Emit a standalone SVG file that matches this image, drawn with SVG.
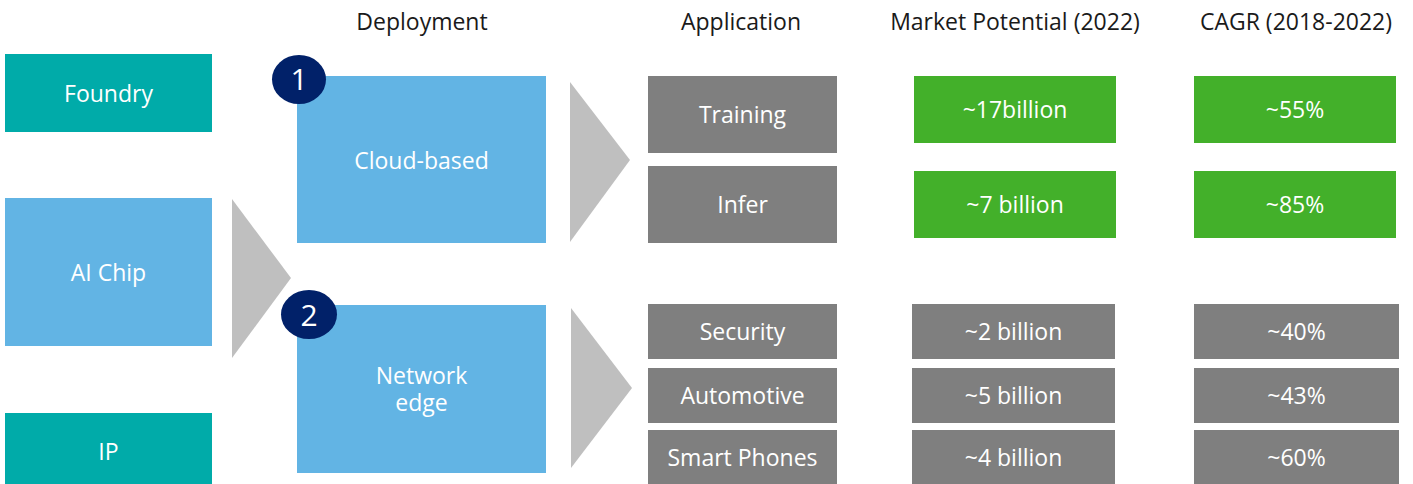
<svg xmlns="http://www.w3.org/2000/svg" width="1413" height="484" viewBox="0 0 1413 484">
<style>
text{font-family:"Open Sans","Noto Sans","Liberation Sans",sans-serif;font-size:23px;text-anchor:middle}
.hdr{fill:#1a1a1a}
.lbl{fill:#ffffff}
.num{fill:#ffffff;font-size:30px}
.teal{fill:#00ABA9}
.blue{fill:#62B4E4}
.gray{fill:#7F7F7F}
.green{fill:#43B02A}
.navy{fill:#012169}
.arrow{fill:#BFBFBF}
</style>
<rect width="1413" height="484" fill="#ffffff"/>
<g id="headers">
<text class="hdr" x="422" y="30">Deployment</text>
<text class="hdr" x="741" y="30">Application</text>
<text class="hdr" x="1015" y="30">Market Potential (2022)</text>
<text class="hdr" x="1296" y="30">CAGR (2018-2022)</text>
</g>
<g id="connectors">
<polygon class="arrow" points="232,199 232,358 291,278"/>
<polygon class="arrow" points="570,82 570,242 630,160"/>
<polygon class="arrow" points="571,308 571,468 632,388"/>
</g>
<g id="foundry"><rect class="teal" x="5" y="54" width="207" height="78"/><text class="lbl" x="108.5" y="101.5">Foundry</text></g>
<g id="aichip"><rect class="blue" x="5" y="198" width="207" height="148"/><text class="lbl" x="108.5" y="281">AI Chip</text></g>
<g id="ip"><rect class="teal" x="5" y="413" width="207" height="72"/><text class="lbl" x="108.5" y="459.5">IP</text></g>
<g id="cloud"><rect class="blue" x="297" y="76" width="249" height="167"/><text class="lbl" x="421.5" y="168.5">Cloud-based</text></g>
<g id="badge1"><ellipse class="navy" cx="299" cy="79.5" rx="27" ry="24.5"/><text class="num" x="299" y="90">1</text></g>
<g id="edge"><rect class="blue" x="297" y="305" width="249" height="168"/><text class="lbl" x="421.5" y="383.5">Network<tspan x="421.5" dy="27">edge</tspan></text></g>
<g id="badge2"><ellipse class="navy" cx="309" cy="314.5" rx="28" ry="24.5"/><text class="num" x="309" y="326">2</text></g>
<g id="training"><rect class="gray" x="648" y="76" width="189" height="77"/><text class="lbl" x="742.5" y="122.5">Training</text></g>
<g id="infer"><rect class="gray" x="648" y="166" width="189" height="77"/><text class="lbl" x="742.5" y="212.5">Infer</text></g>
<g id="security"><rect class="gray" x="648" y="304" width="189" height="55"/><text class="lbl" x="742.5" y="340">Security</text></g>
<g id="automotive"><rect class="gray" x="648" y="368" width="189" height="55"/><text class="lbl" x="742.5" y="403.5">Automotive</text></g>
<g id="smartphones"><rect class="gray" x="648" y="430" width="189" height="54"/><text class="lbl" x="742.5" y="465.5">Smart Phones</text></g>
<g id="mp-training"><rect class="green" x="914" y="76" width="202" height="67"/><text class="lbl" x="1015" y="117.5">~17billion</text></g>
<g id="mp-infer"><rect class="green" x="914" y="171" width="202" height="67"/><text class="lbl" x="1015" y="212.5">~7 billion</text></g>
<g id="mp-security"><rect class="gray" x="912" y="304" width="203" height="55"/><text class="lbl" x="1013.5" y="340">~2 billion</text></g>
<g id="mp-automotive"><rect class="gray" x="912" y="368" width="203" height="55"/><text class="lbl" x="1013.5" y="403.5">~5 billion</text></g>
<g id="mp-smartphones"><rect class="gray" x="912" y="430" width="203" height="54"/><text class="lbl" x="1013.5" y="465.5">~4 billion</text></g>
<g id="cagr-training"><rect class="green" x="1194" y="76" width="202" height="67"/><text class="lbl" x="1295" y="117.5">~55%</text></g>
<g id="cagr-infer"><rect class="green" x="1194" y="171" width="202" height="67"/><text class="lbl" x="1295" y="212.5">~85%</text></g>
<g id="cagr-security"><rect class="gray" x="1194" y="304" width="205" height="55"/><text class="lbl" x="1296.5" y="340">~40%</text></g>
<g id="cagr-automotive"><rect class="gray" x="1194" y="368" width="205" height="55"/><text class="lbl" x="1296.5" y="403.5">~43%</text></g>
<g id="cagr-smartphones"><rect class="gray" x="1194" y="430" width="205" height="54"/><text class="lbl" x="1296.5" y="465.5">~60%</text></g>
</svg>
